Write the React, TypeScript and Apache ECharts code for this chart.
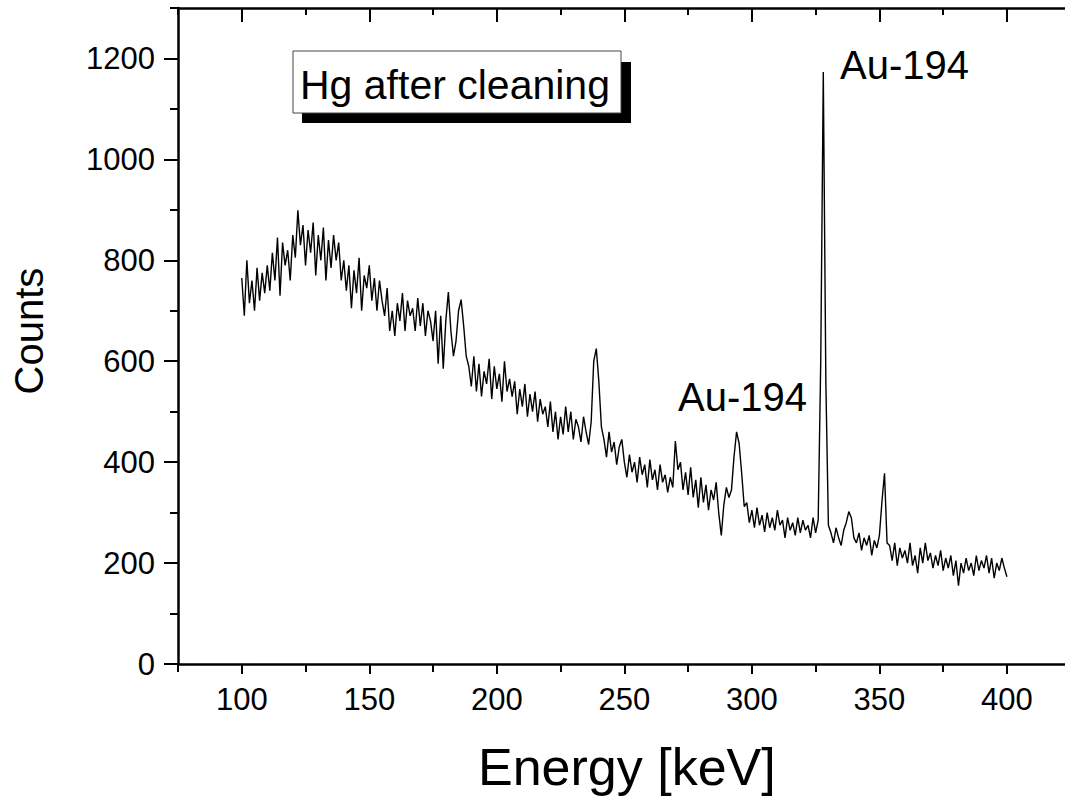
import React, { useEffect, useRef } from "react";
import * as echarts from "echarts";

// ---- Data ----
const energyStart = 100; // keV, first channel
const energyStep = 1; // keV per channel
const counts: number[] = [
  // 100-109
  765, 690, 800, 715, 760, 700, 785, 720, 775, 735,
  // 110-119
  790, 740, 815, 760, 845, 730, 835, 790, 820, 760,
  // 120-129
  850, 805, 899, 830, 870, 790, 860, 815, 875, 770,
  // 130-139
  850, 800, 865, 760, 840, 785, 850, 800, 835, 760,
  // 140-149
  800, 740, 790, 705, 780, 735, 805, 700, 770, 745,
  // 150-159
  790, 720, 765, 700, 760, 720, 690, 745, 660, 700,
  // 160-169
  650, 715, 680, 735, 660, 720, 690, 705, 660, 725,
  // 170-179
  670, 715, 650, 700, 680, 640, 700, 595, 690, 585,
  // 180-189
  680, 737, 660, 610, 640, 700, 722, 670, 610, 590,
  // 190-199
  550, 610, 540, 595, 530, 580, 555, 605, 525, 590,
  // 200-209
  545, 575, 520, 600, 540, 565, 530, 560, 495, 545,
  // 210-219
  510, 555, 490, 535, 500, 540, 480, 525, 495, 510,
  // 220-229
  470, 520, 460, 500, 445, 490, 455, 510, 460, 500,
  // 230-239
  445, 485, 470, 440, 490, 460, 435, 480, 600, 625,
  // 240-249
  560, 470, 445, 410, 460, 420, 440, 395, 430, 445,
  // 250-259
  400, 370, 415, 380, 400, 360, 410, 375, 395, 350,
  // 260-269
  405, 365, 385, 345, 395, 360, 375, 340, 370, 350,
  // 270-279
  442, 385, 400, 345, 380, 335, 390, 330, 365, 310,
  // 280-289
  370, 320, 355, 305, 345, 325, 360, 300, 255, 315,
  // 290-299
  350, 330, 345, 411, 460, 437, 378, 312, 320, 280,
  // 300-309
  305, 270, 310, 275, 295, 262, 300, 270, 290, 265,
  // 310-319
  305, 275, 285, 250, 290, 265, 280, 255, 290, 260,
  // 320-329
  285, 265, 275, 250, 290, 260, 285, 600, 1173, 560,
  // 330-339
  275, 260, 240, 270, 250, 235, 265, 280, 302, 290,
  // 340-349
  250, 240, 260, 225, 250, 235, 255, 215, 245, 230,
  // 350-359
  255, 322, 378, 240, 235, 205, 240, 195, 230, 210,
  // 360-369
  225, 200, 240, 195, 215, 180, 230, 200, 240, 205,
  // 370-379
  220, 190, 215, 195, 225, 185, 210, 190, 215, 175,
  // 380-389
  205, 155, 200, 180, 210, 185, 200, 175, 215, 185,
  // 390-399
  205, 190, 215, 180, 210, 170, 200, 185, 210, 190,
  // 400
  173,
];

const xTickLabels = [100, 150, 200, 250, 300, 350, 400];
const yTickLabels = [0, 200, 400, 600, 800, 1000, 1200];
const xTitle = "Energy [keV]";
const yTitle = "Counts";
const boxLabel = "Hg after cleaning";
const peakLabels = ["Au-194", "Au-194"];

const FONT = "'Liberation Sans', Arial, Helvetica, sans-serif";

export default function App() {
  const ref = useRef<HTMLDivElement>(null);

  useEffect(() => {
    if (!ref.current) return;
    const chart = echarts.init(ref.current, undefined, { renderer: "svg" });
    const data = counts.map((c, i) => [energyStart + i * energyStep, c]);

    const gridRect = { left: 178, top: 8, width: 892.7, height: 656, containLabel: false, outerBoundsMode: "none" };
    const xBase = { type: "value", min: 75, max: 425, interval: 25 };
    const yBase = { type: "value", min: 0, max: 1300, interval: 100 };
    const line = { show: true, onZero: false, lineStyle: { color: "#000", width: 2.5 } };
    const noLine = { show: false, onZero: false };
    const tickStyle = { color: "#000", width: 2 };
    const off = { show: false };
    const titleText = (size: number) => ({ fontSize: size, fontFamily: FONT, fontWeight: "normal", color: "#000" });

    const option: any = {
      animation: false,
      title: [
        { text: peakLabels[0], left: 840, top: 45, padding: 0, textStyle: titleText(40) },
        { text: peakLabels[1], left: 678, top: 377, padding: 0, textStyle: titleText(40) },
        { text: xTitle, left: 478, top: 741, padding: 0, textStyle: titleText(52) },
      ],
      grid: [gridRect, { ...gridRect }],
      xAxis: [
        {
          ...xBase,
          gridIndex: 0,
          position: "bottom",
          axisLine: line,
          axisTick: { show: true, length: 8, lineStyle: tickStyle },
          axisLabel: {
            show: true,
            margin: 20,
            formatter: (v: number) => (xTickLabels.indexOf(v) >= 0 ? String(v) : ""),
            color: "#000",
            fontSize: 31,
            fontFamily: FONT,
          },
          splitLine: off,
        },
        {
          ...xBase,
          gridIndex: 0,
          position: "top",
          axisLine: line,
          axisTick: { show: true, inside: true, length: 7, lineStyle: tickStyle },
          axisLabel: off,
          splitLine: off,
        },
        {
          ...xBase,
          gridIndex: 1,
          position: "bottom",
          axisLine: noLine,
          axisTick: { show: true, length: 10, customValues: xTickLabels, lineStyle: tickStyle },
          axisLabel: off,
          splitLine: off,
        },
        {
          ...xBase,
          gridIndex: 1,
          position: "top",
          axisLine: noLine,
          axisTick: { show: true, inside: true, length: 14, customValues: xTickLabels, lineStyle: tickStyle },
          axisLabel: off,
          splitLine: off,
        },
      ],
      yAxis: [
        {
          ...yBase,
          gridIndex: 0,
          position: "left",
          axisLine: line,
          axisTick: { show: true, length: 8, lineStyle: tickStyle },
          axisLabel: {
            show: true,
            margin: 23,
            formatter: (v: number) => (yTickLabels.indexOf(v) >= 0 ? String(v) : ""),
            color: "#000",
            fontSize: 31,
            fontFamily: FONT,
          },
          splitLine: off,
        },
        {
          ...yBase,
          gridIndex: 1,
          position: "left",
          axisLine: noLine,
          axisTick: { show: true, length: 14, customValues: yTickLabels, lineStyle: tickStyle },
          axisLabel: off,
          splitLine: off,
        },
      ],
      series: [
        {
          type: "line",
          xAxisIndex: 0,
          yAxisIndex: 0,
          data,
          showSymbol: false,
          symbol: "none",
          lineStyle: { color: "#000", width: 1.4 },
          silent: true,
        },
      ],
      graphic: [
        // white strip at the right edge (the plot continues beyond the page there)
        { type: "rect", shape: { x: 1050, y: 11, width: 20, height: 650 }, style: { fill: "#fff" }, z: 100 },
        { type: "rect", shape: { x: 302, y: 62, width: 329, height: 61 }, style: { fill: "#000" }, z: 10 },
        {
          type: "rect",
          shape: { x: 293, y: 51, width: 328, height: 62 },
          style: { fill: "#fff", stroke: "#444", lineWidth: 1 },
          z: 11,
        },
        {
          type: "text",
          x: 300,
          y: 85,
          z: 12,
          style: { text: boxLabel, fill: "#000", font: `41px ${FONT}`, align: "left", verticalAlign: "middle" },
        },
        {
          type: "text",
          x: 29,
          y: 331,
          rotation: Math.PI / 2,
          z: 12,
          style: { text: yTitle, fill: "#000", font: `40px ${FONT}`, align: "center", verticalAlign: "middle" },
        },
      ],
    };

    chart.setOption(option);
    return () => chart.dispose();
  }, []);

  return (
    <div
      ref={ref}
      style={{ position: "fixed", left: 0, top: 0, width: 1065, height: 800, background: "#fff" }}
    />
  );
}
